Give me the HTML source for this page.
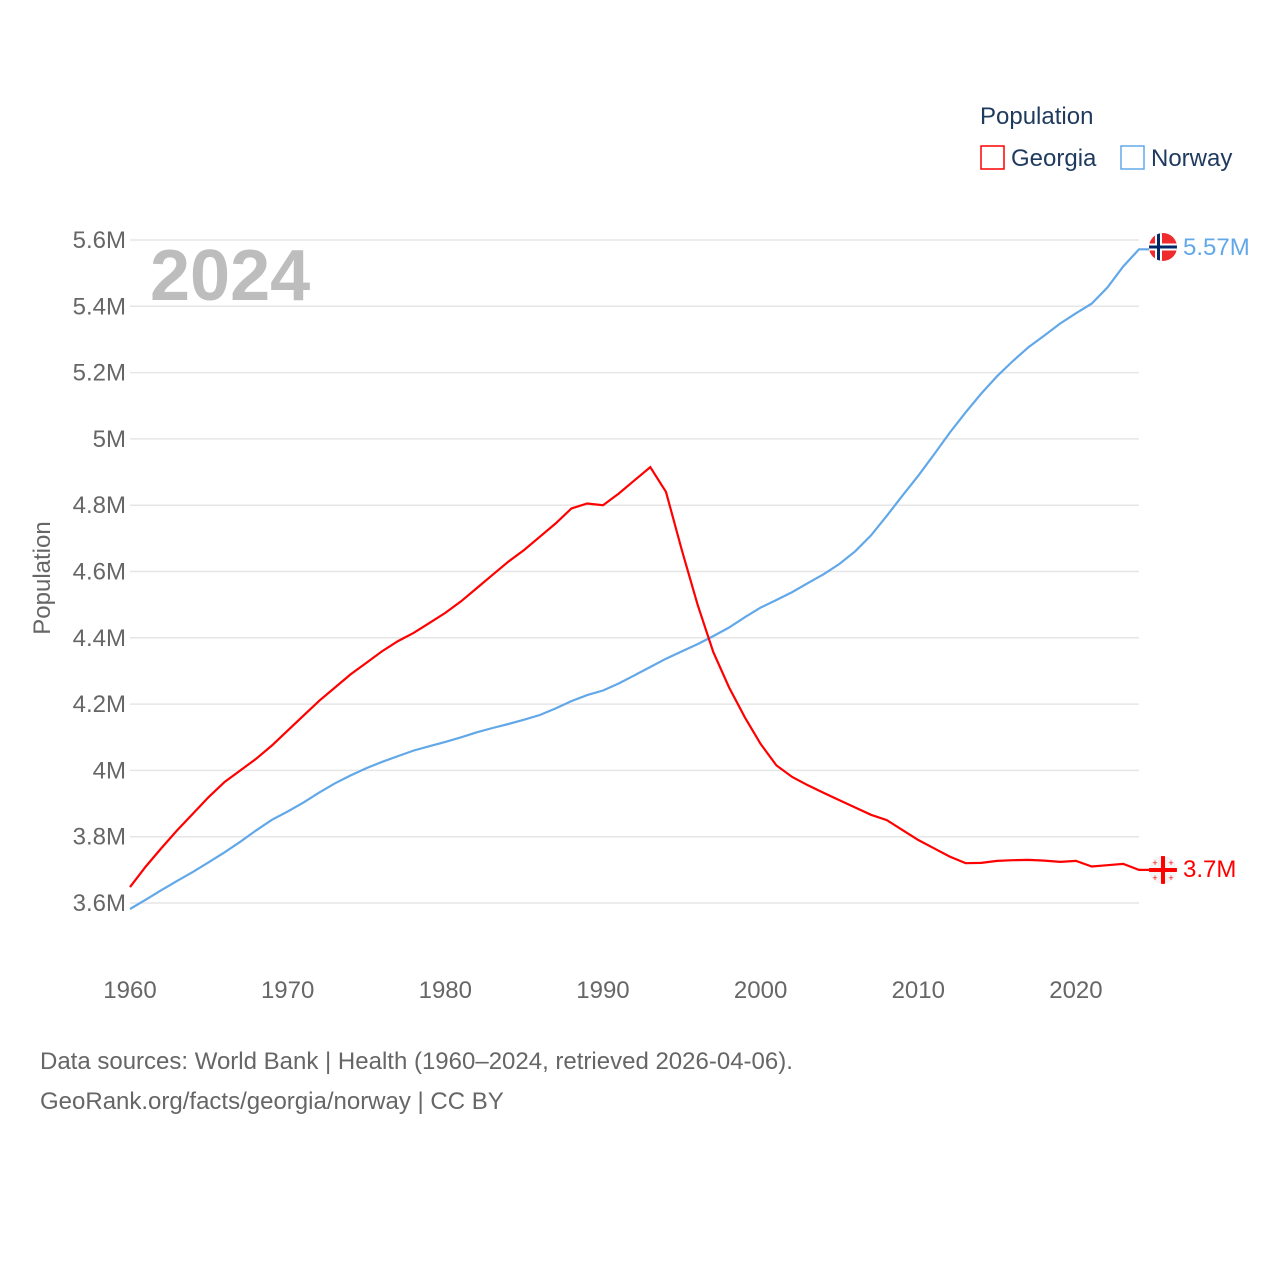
<!DOCTYPE html>
<html><head><meta charset="utf-8"><style>
body{margin:0;background:#fff;}
svg text{font-family:"Liberation Sans",sans-serif;}
</style></head><body>
<svg width="1280" height="1280" viewBox="0 0 1280 1280">
<g id="grid"></g>
<g id="ylabels"></g>
<g id="xlabels"></g>
<text x="150" y="300" font-size="72" font-weight="bold" fill="#bdbdbd">2024</text>
<text transform="translate(50,578) rotate(-90)" text-anchor="middle" font-size="24" fill="#666">Population</text>
<g id="lines"></g>
<text x="980" y="124" font-size="24" fill="#1f3a5f">Population</text>
<g><rect x="981" y="146" width="23" height="23" fill="none" stroke="#ff0000" stroke-width="1.5"/><text x="1011" y="166" font-size="24" fill="#1f3a5f">Georgia</text></g>
<g><rect x="1121" y="146" width="23" height="23" fill="none" stroke="#62a8e8" stroke-width="1.5"/><text x="1151" y="166" font-size="24" fill="#1f3a5f">Norway</text></g>
<g><clipPath id="c1"><circle cx="1163" cy="247" r="14"/></clipPath><g clip-path="url(#c1)"><rect x="1149" y="233" width="28" height="28" fill="#ef2b2d"/><rect x="1155" y="233" width="7" height="28" fill="#fff"/><rect x="1149" y="243.5" width="28" height="7" fill="#fff"/><rect x="1157" y="233" width="3" height="28" fill="#002868"/><rect x="1149" y="245.5" width="28" height="3" fill="#002868"/></g></g>
<text x="1183" y="255" font-size="24" fill="#62a8e8">5.57M</text>
<g><clipPath id="c2"><circle cx="1163" cy="870" r="14"/></clipPath><g clip-path="url(#c2)"><rect x="1149" y="856" width="28" height="28" fill="#f4f4f4"/><rect x="1161" y="856" width="4" height="28" fill="#ff0000"/><rect x="1149" y="868" width="28" height="4" fill="#ff0000"/><text x="1155" y="866" font-size="9" fill="#f00" text-anchor="middle">+</text><text x="1171" y="866" font-size="9" fill="#f00" text-anchor="middle">+</text><text x="1155" y="881" font-size="9" fill="#f00" text-anchor="middle">+</text><text x="1171" y="881" font-size="9" fill="#f00" text-anchor="middle">+</text></g></g>
<text x="1183" y="877" font-size="24" fill="#ff0000">3.7M</text>
<text x="40" y="1069" font-size="24" fill="#666">Data sources: World Bank | Health (1960–2024, retrieved 2026-04-06).</text>
<text x="40" y="1109" font-size="24" fill="#666">GeoRank.org/facts/georgia/norway | CC BY</text>
</svg>
<script>
const years=[];for(let y=1960;y<=2024;y++)years.push(y);
const georgia=[3.648,3.71,3.766,3.82,3.87,3.92,3.965,4.0,4.035,4.075,4.12,4.165,4.21,4.25,4.29,4.325,4.36,4.39,4.415,4.445,4.475,4.51,4.55,4.59,4.63,4.665,4.705,4.745,4.79,4.805,4.80,4.835,4.875,4.915,4.84,4.665,4.50,4.357,4.25,4.16,4.08,4.015,3.98,3.955,3.932,3.91,3.888,3.866,3.85,3.82,3.79,3.765,3.74,3.72,3.721,3.727,3.729,3.73,3.728,3.724,3.727,3.71,3.714,3.718,3.70];
const norway=[3.582,3.610,3.639,3.667,3.694,3.723,3.753,3.785,3.819,3.851,3.876,3.903,3.933,3.961,3.985,4.007,4.026,4.043,4.060,4.073,4.086,4.100,4.115,4.128,4.140,4.153,4.167,4.187,4.209,4.227,4.241,4.262,4.287,4.312,4.337,4.359,4.381,4.405,4.431,4.462,4.491,4.514,4.538,4.565,4.592,4.623,4.661,4.709,4.768,4.829,4.889,4.953,5.019,5.080,5.137,5.189,5.235,5.277,5.312,5.348,5.379,5.408,5.457,5.520,5.572];
const yTicks=[3.6,3.8,4,4.2,4.4,4.6,4.8,5,5.2,5.4,5.6];
const yTickLabels=["3.6M","3.8M","4M","4.2M","4.4M","4.6M","4.8M","5M","5.2M","5.4M","5.6M"];
const xTicks=[1960,1970,1980,1990,2000,2010,2020];
const NS='http://www.w3.org/2000/svg';
const xs=y=>130+(y-1960)*(1139-130)/64;
const ys=v=>903-(v-3.6)*331.5;
const grid=document.getElementById('grid'),yl=document.getElementById('ylabels'),xl=document.getElementById('xlabels'),lines=document.getElementById('lines');
yTicks.forEach((t,i)=>{
 const l=document.createElementNS(NS,'line');
 
 
 l.setAttribute('x1',130);l.setAttribute('x2',1139);l.setAttribute('y1',ys(t));l.setAttribute('y2',ys(t));
 l.setAttribute('stroke','#e6e6e6');l.setAttribute('stroke-width','1.5');grid.appendChild(l);
 const tx=document.createElementNS(NS,'text');
 
 
 tx.setAttribute('x',126);tx.setAttribute('y',ys(t)+8);tx.setAttribute('text-anchor','end');
 tx.setAttribute('font-size','24');tx.setAttribute('fill','#666');tx.textContent=yTickLabels[i];yl.appendChild(tx);
});
xTicks.forEach(t=>{
 const tx=document.createElementNS(NS,'text');
 
 
 tx.setAttribute('x',xs(t));tx.setAttribute('y',998);tx.setAttribute('text-anchor','middle');
 tx.setAttribute('font-size','24');tx.setAttribute('fill','#666');tx.textContent=t;xl.appendChild(tx);
});
function draw(data,color,name){
 const p=document.createElementNS(NS,'path');
 
 
 let d=data.map((v,i)=>(i?'L':'M')+xs(years[i]).toFixed(1)+','+ys(v).toFixed(1)).join('');
 d+='L'+(xs(2024)+10)+','+ys(data[data.length-1]).toFixed(1);
 p.setAttribute('d',d);p.setAttribute('fill','none');p.setAttribute('stroke',color);p.setAttribute('stroke-width','2.2');
 lines.appendChild(p);
}
draw(norway,'#62a8e8','norway-line');
draw(georgia,'#ff0000','georgia-line');
</script>
</body></html>
